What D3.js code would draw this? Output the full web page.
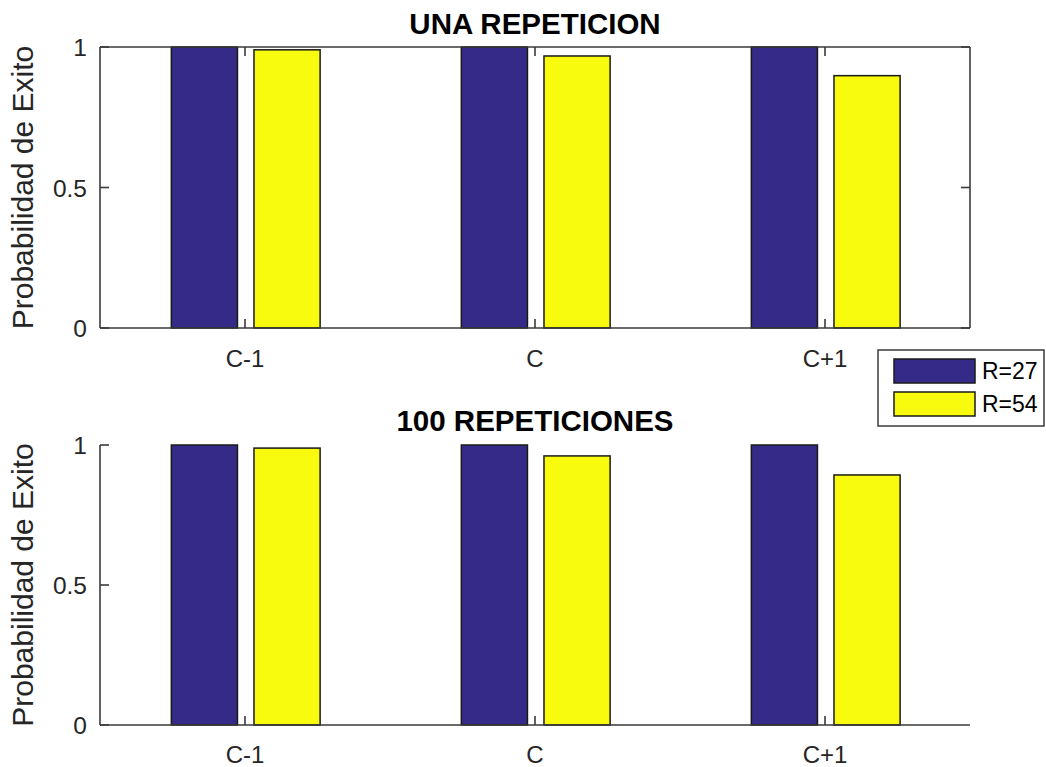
<!DOCTYPE html>
<html>
<head>
<meta charset="utf-8">
<script src="https://cdn.jsdelivr.net/npm/d3@7"></script>
<style>
  html, body { margin: 0; padding: 0; background: #fff; }
  svg { display: block; }
  text { font-family: "Liberation Sans", Arial, sans-serif; }
</style>
</head>
<body>
<svg id="chart" width="1046" height="767"></svg>
<script>
const categories = ["C-1", "C", "C+1"];
const seriesNames = ["R=27", "R=54"];
const seriesColors = ["#352a87", "#f9fb0e"];
const titles = ["UNA REPETICION", "100 REPETICIONES"];
const yLabel = "Probabilidad de Exito";
const yTicks = [0, 0.5, 1];
// panel 1: una repeticion
const unaR27 = [1, 1, 1];
const unaR54 = [0.99, 0.968, 0.898];
// panel 2: 100 repeticiones
const cienR27 = [1, 1, 1];
const cienR54 = [0.989, 0.961, 0.893];

const panelsData = [[unaR27, unaR54], [cienR27, cienR54]];

const svg = d3.select("#chart");
const axisColor = "#3a3a3a";
const tickLen = 9;

const panels = [
  { top: 47, bottom: 328, left: 100, right: 970, box: true, titleY: 34, xLabY: 367 },
  { top: 445, bottom: 725, left: 100, right: 970, box: false, titleY: 431, xLabY: 763 }
];

panels.forEach((p, pi) => {
  const g = svg.append("g");
  const x = d3.scaleLinear().domain([0.5, categories.length + 0.5]).range([p.left, p.right]);
  const y = d3.scaleLinear().domain([0, 1]).range([p.bottom, p.top]);
  const x1 = d3.scaleBand().domain(seriesNames).range([-0.254, 0.259]).paddingInner(0.2);
  const unit = x(1) - x(0);

  // bars
  panelsData[pi].forEach((vals, si) => {
    g.selectAll(null).data(vals).join("rect")
      .attr("x", (d, i) => x(i + 1 + x1(seriesNames[si])))
      .attr("width", x1.bandwidth() * unit)
      .attr("y", d => y(d))
      .attr("height", d => y(0) - y(d))
      .attr("fill", seriesColors[si])
      .attr("stroke", "#1a1a1a")
      .attr("stroke-width", 1.5);
  });

  // axes
  const ax = g.append("g").attr("stroke", axisColor).attr("stroke-width", 1.6).attr("fill", "none");
  ax.append("line").attr("x1", p.left).attr("x2", p.left).attr("y1", p.top).attr("y2", p.bottom);
  ax.append("line").attr("x1", p.left).attr("x2", p.right).attr("y1", p.bottom).attr("y2", p.bottom);
  if (p.box) {
    ax.append("line").attr("x1", p.left).attr("x2", p.right).attr("y1", p.top).attr("y2", p.top);
    ax.append("line").attr("x1", p.right).attr("x2", p.right).attr("y1", p.top).attr("y2", p.bottom);
  }
  // ticks (inward)
  categories.forEach((c, i) => {
    const xv = x(i + 1);
    ax.append("line").attr("x1", xv).attr("x2", xv).attr("y1", p.bottom).attr("y2", p.bottom - tickLen);
    if (p.box) ax.append("line").attr("x1", xv).attr("x2", xv).attr("y1", p.top).attr("y2", p.top + tickLen);
  });
  yTicks.forEach(t => {
    const yv = y(t);
    ax.append("line").attr("x1", p.left).attr("x2", p.left + tickLen).attr("y1", yv).attr("y2", yv);
    if (p.box) ax.append("line").attr("x1", p.right).attr("x2", p.right - tickLen).attr("y1", yv).attr("y2", yv);
  });

  // tick labels
  g.selectAll(null).data(categories).join("text")
    .attr("x", (d, i) => x(i + 1))
    .attr("y", p.xLabY)
    .attr("text-anchor", "middle")
    .attr("font-size", 24)
    .attr("fill", "#262626")
    .text(d => d);
  g.selectAll(null).data(yTicks).join("text")
    .attr("x", p.left - 13)
    .attr("y", d => y(d) + 9)
    .attr("text-anchor", "end")
    .attr("font-size", 24.5)
    .attr("fill", "#262626")
    .text(d => d3.format("~g")(d));

  // y label
  g.append("text")
    .attr("transform", `translate(${p.left - 67},${(p.top + p.bottom) / 2}) rotate(-90)`)
    .attr("text-anchor", "middle")
    .attr("font-size", 30)
    .attr("fill", "#262626")
    .text(yLabel);

  // title
  g.append("text")
    .attr("x", (p.left + p.right) / 2)
    .attr("y", p.titleY)
    .attr("text-anchor", "middle")
    .attr("font-size", 29.5)
    .attr("font-weight", "bold")
    .attr("fill", "#000")
    .text(titles[pi]);
});

// legend
const lg = svg.append("g");
lg.append("rect").attr("x", 878).attr("y", 350).attr("width", 166).attr("height", 76)
  .attr("fill", "#fff").attr("stroke", "#3a3a3a").attr("stroke-width", 1.5);
seriesNames.forEach((s, i) => {
  lg.append("rect").attr("x", 894).attr("y", 359 + i * 33).attr("width", 81).attr("height", 24)
    .attr("fill", seriesColors[i]).attr("stroke", "#1a1a1a").attr("stroke-width", 1.5);
  lg.append("text").attr("x", 982).attr("y", 379 + i * 33).attr("font-size", 23)
    .attr("fill", "#000").text(s);
});
</script>
</body>
</html>
